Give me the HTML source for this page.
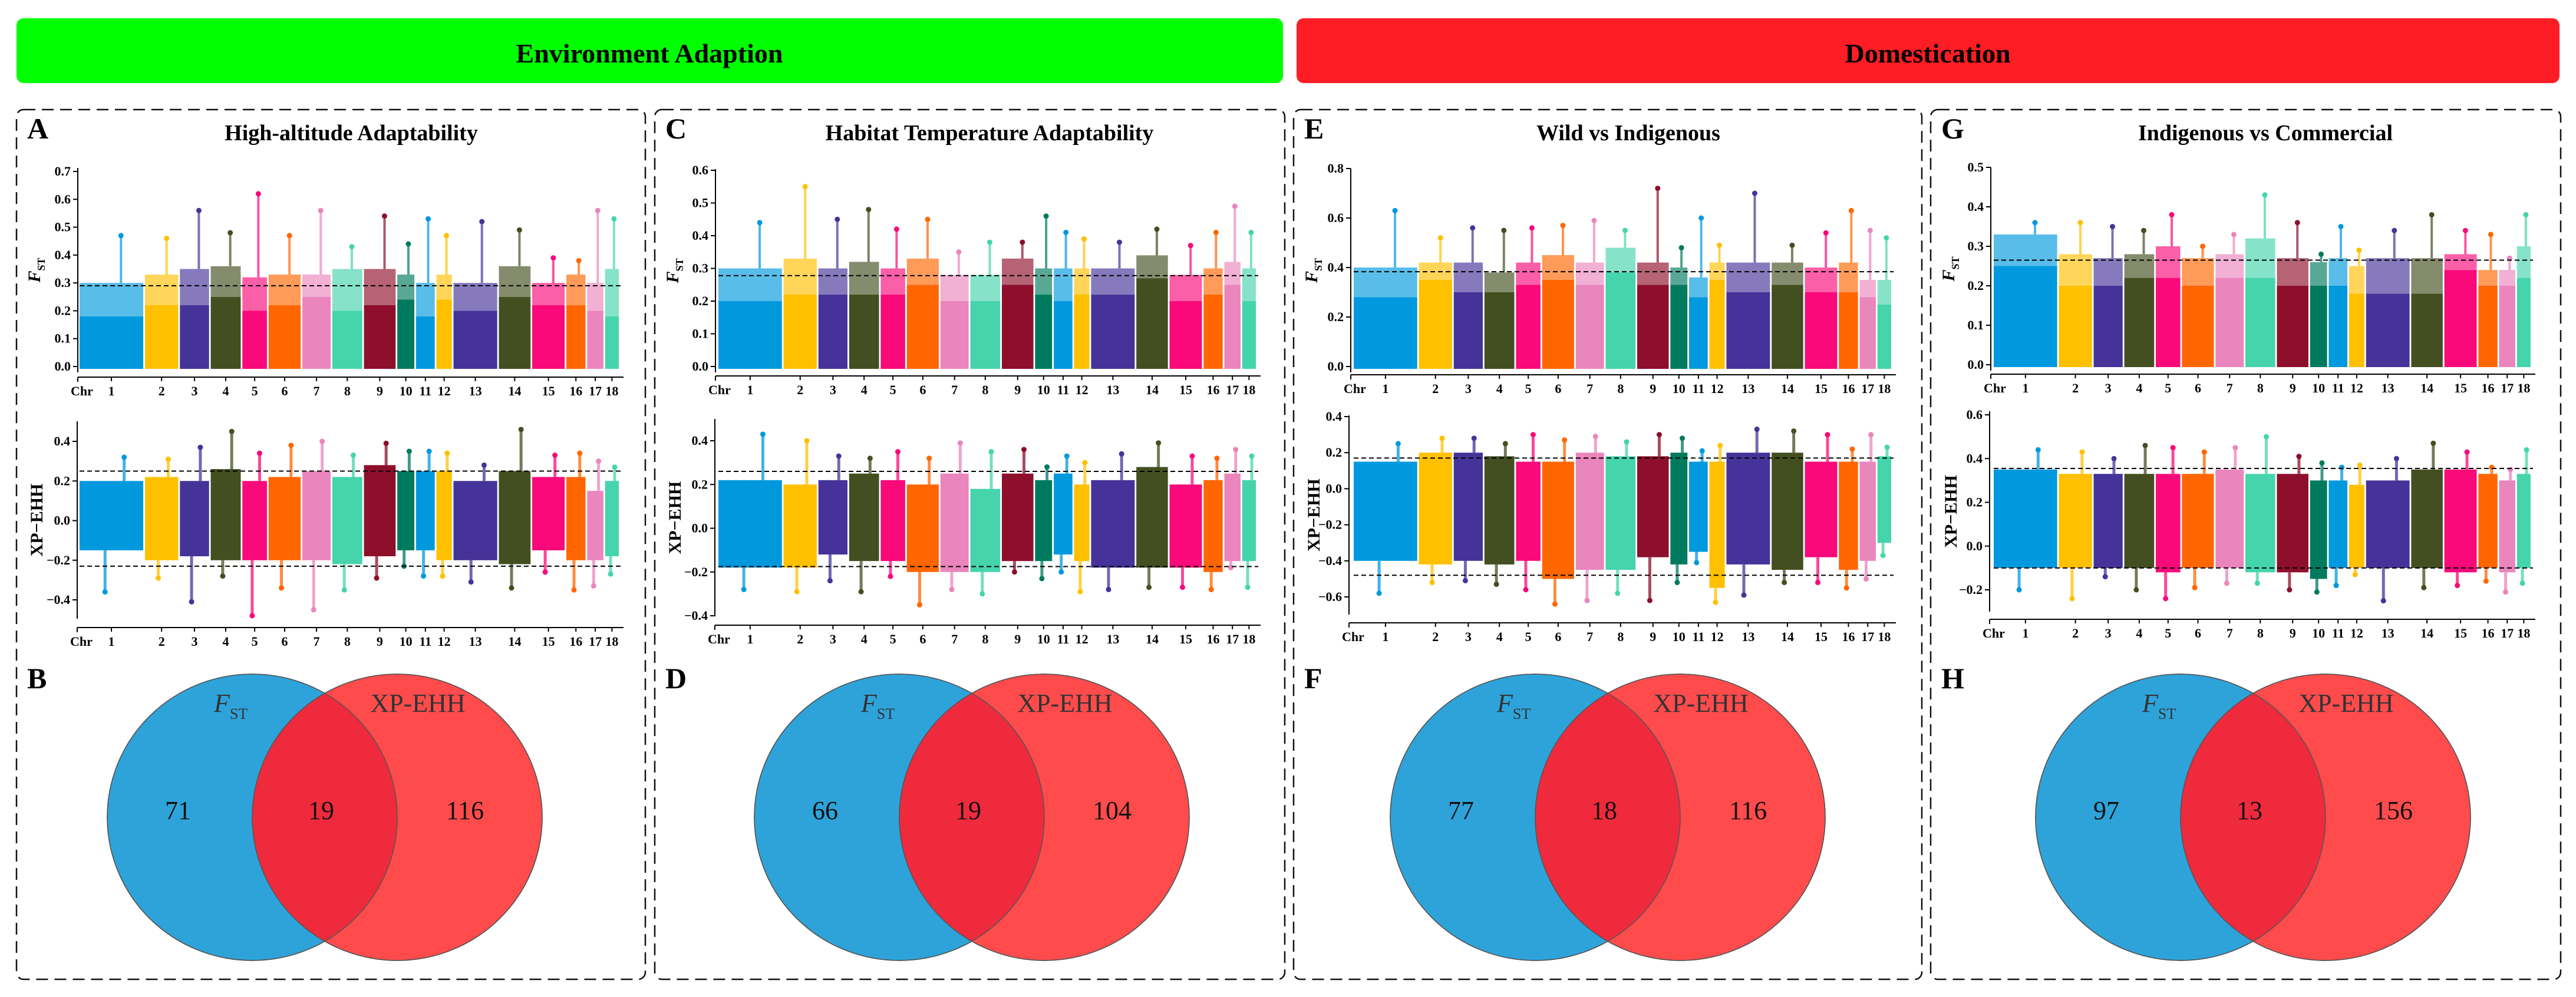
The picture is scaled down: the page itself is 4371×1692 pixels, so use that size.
<!DOCTYPE html>
<html><head><meta charset="utf-8">
<style>
html,body{margin:0;padding:0;background:#fff;}
svg{display:block;}
text,tspan{font-family:"Liberation Serif",serif;}
</style></head>
<body>
<svg id="fig" width="4371" height="1692" viewBox="0 0 4371 1692" xmlns="http://www.w3.org/2000/svg" font-family="Liberation Serif, serif">
<defs></defs>
<rect x="28" y="31" width="2149" height="110" rx="12" fill="#00ff00"/>
<text x="1102" y="106" text-anchor="middle" font-size="46" font-weight="bold">Environment Adaption</text>
<rect x="2200" y="31" width="2143" height="110" rx="12" fill="#ff1d25"/>
<text x="3271" y="106" text-anchor="middle" font-size="46" font-weight="bold">Domestication</text>
<g id="panels"></g>
</svg>
<script>
// ---- data ----
const chromosomes = ["1","2","3","4","5","6","7","8","9","10","11","12","13","14","15","16","17","18"];
const chromLengths = [153,80,70,72,59,77,68,72,76,41,45,37,105,76,78,46,39,33];
const chromColors = ["#0099dd","#ffc000","#453399","#434f20","#f9097a","#ff6600","#ea85bd","#45d4ac","#8d0f2b","#007a5e","#0099dd","#ffc000","#453399","#434f20","#f9097a","#ff6600","#ea85bd","#45d4ac"];
const panelTitles = ["High-altitude Adaptability","Habitat Temperature Adaptability","Wild vs Indigenous","Indigenous vs Commercial"];
const topLetters = ["A","C","E","G"];
const bottomLetters = ["B","D","F","H"];
const fstDenseA = [.18,.22,.22,.25,.2,.22,.25,.2,.22,.24,.18,.24,.2,.25,.22,.22,.2,.18];
const fstSparseA = [.3,.33,.35,.36,.32,.33,.33,.35,.35,.33,.3,.33,.3,.36,.3,.33,.3,.35];
const fstMaxA = [.47,.46,.56,.48,.62,.47,.56,.43,.54,.44,.53,.47,.52,.49,.39,.38,.56,.53];
const fstDenseC = [.2,.22,.22,.22,.22,.25,.2,.2,.25,.22,.2,.22,.22,.27,.2,.22,.25,.2];
const fstSparseC = [.3,.33,.3,.32,.3,.33,.28,.28,.33,.3,.3,.3,.3,.34,.28,.3,.32,.3];
const fstMaxC = [.44,.55,.45,.48,.42,.45,.35,.38,.38,.46,.41,.39,.38,.42,.37,.41,.49,.41];
const fstDenseE = [.28,.35,.3,.3,.33,.35,.33,.38,.33,.33,.28,.35,.3,.33,.3,.3,.28,.25];
const fstSparseE = [.4,.42,.42,.38,.42,.45,.42,.48,.42,.4,.36,.42,.42,.42,.4,.42,.35,.35];
const fstMaxE = [.63,.52,.56,.55,.56,.57,.59,.55,.72,.48,.6,.49,.7,.49,.54,.63,.55,.52];
const fstDenseG = [.25,.2,.2,.22,.22,.2,.22,.22,.2,.2,.2,.18,.18,.18,.24,.2,.2,.22];
const fstSparseG = [.33,.28,.27,.28,.3,.27,.28,.32,.27,.26,.27,.25,.27,.27,.28,.24,.24,.3];
const fstMaxG = [.36,.36,.35,.34,.38,.3,.33,.43,.36,.28,.35,.29,.34,.38,.34,.33,.27,.38];
const xpHiA = [.2,.22,.2,.26,.2,.22,.25,.22,.28,.25,.25,.25,.2,.25,.22,.22,.15,.2];
const xpLoA = [-.15,-.2,-.18,-.2,-.2,-.2,-.2,-.22,-.18,-.15,-.15,-.2,-.2,-.22,-.15,-.2,-.2,-.18];
const xpMaxA = [.32,.31,.37,.45,.34,.38,.40,.33,.39,.35,.35,.34,.28,.46,.33,.34,.3,.27];
const xpMinA = [-.36,-.29,-.41,-.28,-.48,-.34,-.45,-.35,-.29,-.23,-.28,-.28,-.31,-.34,-.26,-.35,-.33,-.27];
const xpHiC = [.22,.2,.22,.25,.22,.2,.25,.18,.25,.22,.25,.2,.22,.28,.2,.22,.25,.22];
const xpLoC = [-.18,-.18,-.12,-.15,-.15,-.2,-.2,-.2,-.15,-.15,-.12,-.15,-.18,-.18,-.18,-.2,-.15,-.15];
const xpMaxC = [.43,.4,.33,.32,.35,.32,.39,.35,.36,.28,.33,.3,.34,.39,.33,.32,.36,.33];
const xpMinC = [-.28,-.29,-.24,-.29,-.22,-.35,-.28,-.3,-.2,-.23,-.2,-.29,-.28,-.27,-.27,-.28,-.18,-.27];
const xpHiE = [.15,.2,.2,.18,.15,.15,.2,.18,.18,.2,.15,.15,.2,.2,.15,.15,.15,.18];
const xpLoE = [-.4,-.42,-.4,-.42,-.4,-.5,-.45,-.45,-.38,-.42,-.35,-.55,-.42,-.45,-.38,-.45,-.4,-.3];
const xpMaxE = [.25,.28,.28,.25,.3,.27,.29,.26,.3,.28,.21,.24,.33,.32,.3,.22,.3,.23];
const xpMinE = [-.58,-.52,-.51,-.53,-.56,-.64,-.62,-.58,-.62,-.52,-.41,-.63,-.59,-.52,-.52,-.55,-.5,-.37];
const xpHiG = [.35,.33,.33,.33,.33,.33,.35,.33,.33,.3,.3,.28,.3,.35,.35,.33,.3,.33];
const xpLoG = [-.1,-.1,-.1,-.1,-.12,-.1,-.1,-.12,-.12,-.15,-.1,-.1,-.1,-.1,-.12,-.1,-.12,-.1];
const xpMaxG = [.44,.43,.4,.46,.45,.43,.45,.5,.41,.38,.36,.37,.4,.47,.43,.36,.35,.44];
const xpMinG = [-.2,-.24,-.14,-.2,-.24,-.19,-.17,-.17,-.2,-.21,-.18,-.13,-.25,-.19,-.18,-.16,-.21,-.17];
const fstThresholds = [0.29,0.278,0.383,0.265];
const xpUpperThresholds = [0.25,0.26,0.17,0.355];
const xpLowerThresholds = [-0.23,-0.175,-0.48,-0.1];
const fstTickLabelsA = ["0.0","0.1","0.2","0.3","0.4","0.5","0.6","0.7"];
const fstTickLabelsC = ["0.0","0.1","0.2","0.3","0.4","0.5","0.6"];
const fstTickLabelsE = ["0.0","0.2","0.4","0.6","0.8"];
const fstTickLabelsG = ["0.0","0.1","0.2","0.3","0.4","0.5"];
const xpTickLabelsA = ["−0.4","−0.2","0.0","0.2","0.4"];
const xpTickLabelsC = ["−0.4","−0.2","0.0","0.2","0.4"];
const xpTickLabelsE = ["−0.6","−0.4","−0.2","0.0","0.2","0.4"];
const xpTickLabelsG = ["−0.2","0.0","0.2","0.4","0.6"];
const vennFstOnly = [71,66,77,97];
const vennShared = [19,19,18,13];
const vennXpOnly = [116,104,116,156];

// ---- layout (pixels) ----
const panelLeft = [28,1111,2195,3276];
const panelWidth = [1067,1069,1066,1069];
const L = [
 {ax:132, x0:135, x1:1050, f0y:622, fTopV:.7, fTopY:291, fAxTop:285, fXline:640,
  xAx:131, xTopV:.4, xTopY:749, xBotV:-.4, xBotY:1018, xAxTop:715, xAxBot:1050, xXline:1065, vennL:182},
 {ax:1214, x0:1219, x1:2131, f0y:622, fTopV:.6, fTopY:289, fAxTop:287, fXline:638,
  xAx:1213, xTopV:.4, xTopY:748, xBotV:-.4, xBotY:1045, xAxTop:711, xAxBot:1046, xXline:1061, vennL:1280},
 {ax:2292, x0:2297, x1:3209, f0y:622, fTopV:.8, fTopY:286, fAxTop:286, fXline:636,
  xAx:2289, xTopV:.4, xTopY:707, xBotV:-.6, xBotY:1013, xAxTop:705, xAxBot:1043, xXline:1057, vennL:2359},
 {ax:3378, x0:3383, x1:4294, f0y:619, fTopV:.5, fTopY:284, fAxTop:284, fXline:635,
  xAx:3376, xTopV:.6, xTopY:704, xBotV:-.2, xBotY:1001, xAxTop:698, xAxBot:1038, xXline:1051, vennL:3454}
];
const fstDense=[fstDenseA,fstDenseC,fstDenseE,fstDenseG], fstSparse=[fstSparseA,fstSparseC,fstSparseE,fstSparseG], fstMax=[fstMaxA,fstMaxC,fstMaxE,fstMaxG];
const xpHi=[xpHiA,xpHiC,xpHiE,xpHiG], xpLo=[xpLoA,xpLoC,xpLoE,xpLoG], xpMax=[xpMaxA,xpMaxC,xpMaxE,xpMaxG], xpMin=[xpMinA,xpMinC,xpMinE,xpMinG];
const fstTicks=[fstTickLabelsA,fstTickLabelsC,fstTickLabelsE,fstTickLabelsG];
const xpTicks=[xpTickLabelsA,xpTickLabelsC,xpTickLabelsE,xpTickLabelsG];

const NS="http://www.w3.org/2000/svg";
const root=document.getElementById('panels');
function mk(tag, attrs, parent){const e=document.createElementNS(NS,tag);for(const k in attrs)e.setAttribute(k,attrs[k]);(parent||root).appendChild(e);return e;}
function num(s){return parseFloat(s.replace('−','-'));}

const GAP=4;
const totalLen=chromLengths.reduce((a,b)=>a+b,0)+GAP*(chromLengths.length-1);

for(let p=0;p<4;p++){
  const g=L[p], left=panelLeft[p];
  const grp=mk('g',{});
  
  
  const box=mk('rect',{x:left,y:186,width:panelWidth[p],height:1476,rx:12,fill:'none',stroke:'#111','stroke-width':2.5,'stroke-dasharray':'20 11'},grp);
  
  
  const lt=mk('text',{x:left+18,y:235,'font-size':50,'font-weight':'bold'},grp);lt.textContent=topLetters[p];
  
  
  const tt=mk('text',{x:left+568,y:238,'font-size':38,'font-weight':'bold','text-anchor':'middle'},grp);tt.textContent=panelTitles[p];
  
  

  const xs=(g.x1-g.x0)/totalLen;
  const chromX=[];let acc=0;
  for(let i=0;i<chromLengths.length;i++){chromX.push([g.x0+acc*xs,g.x0+(acc+chromLengths[i])*xs]);acc+=chromLengths[i]+GAP;}

  const fy=v=>g.f0y-(v/g.fTopV)*(g.f0y-g.fTopY);
  const xyS=(g.xBotY-g.xTopY)/(g.xTopV-g.xBotV);
  const xy=v=>g.xTopY+(g.xTopV-v)*xyS;

  // ---- FST plot ----
  const fg=mk('g',{},grp);
  
  
  for(let i=0;i<chromLengths.length;i++){
    const [a,b]=chromX[i], c=chromColors[i];
    const r1=mk('rect',{x:a,y:fy(fstSparse[p][i]),width:b-a,height:fy(fstDense[p][i])-fy(fstSparse[p][i]),fill:c,opacity:0.65},fg);
    
    
    const r2=mk('rect',{x:a,y:fy(fstDense[p][i]),width:b-a,height:fy(0)+4-fy(fstDense[p][i]),fill:c},fg);
    
    
    const d=mk('circle',{cx:(a+b)/2+(b-a)*0.15,cy:fy(fstMax[p][i]),r:4.5,fill:c},fg);
    
    
    const s=mk('rect',{x:(a+b)/2+(b-a)*0.15-2,y:fy(fstMax[p][i]),width:4,height:fy(fstSparse[p][i])-fy(fstMax[p][i]),fill:c,opacity:0.7},fg);
    
    
  }
  const ft=mk('line',{x1:g.x0,x2:g.x1+4,y1:fy(fstThresholds[p]),y2:fy(fstThresholds[p]),stroke:'#000','stroke-width':2,'stroke-dasharray':'8 5'},fg);
  
  
  const fya=mk('line',{x1:g.ax,x2:g.ax,y1:g.fAxTop,y2:g.f0y+10,stroke:'#000','stroke-width':2},fg);
  
  
  fstTicks[p].forEach(t=>{const y=fy(num(t));
    mk('line',{x1:g.ax-8,x2:g.ax,y1:y,y2:y,stroke:'#000','stroke-width':2},fg);
    const tx=mk('text',{x:g.ax-12,y:y+7,'font-size':22,'font-weight':'bold','text-anchor':'end'},fg);tx.textContent=t;
    
    
  });
  const fyl=mk('text',{transform:`translate(${left+40},${(g.fAxTop+g.f0y)/2+5}) rotate(-90)`,'font-size':30,'font-weight':'bold','text-anchor':'middle'},fg);
  fyl.innerHTML='<tspan font-style="italic">F</tspan><tspan font-size="18" dy="8">ST</tspan>';
  
  
  drawXAxis(fg,g.ax,g.x1+8,g.fXline,chromX,'fst');

  // ---- XP-EHH plot ----
  const xg=mk('g',{},grp);
  
  
  for(let i=0;i<chromLengths.length;i++){
    const [a,b]=chromX[i], c=chromColors[i];
    const r=mk('rect',{x:a,y:xy(xpHi[p][i]),width:b-a,height:xy(xpLo[p][i])-xy(xpHi[p][i]),fill:c},xg);
    
    
    const cx1=a+(b-a)*0.7, cx2=a+(b-a)*0.4;
    const s1=mk('rect',{x:cx1-2.5,y:xy(xpMax[p][i]),width:5,height:xy(xpHi[p][i])-xy(xpMax[p][i]),fill:c,opacity:0.75},xg);
    
    
    const d1=mk('circle',{cx:cx1,cy:xy(xpMax[p][i]),r:4.5,fill:c},xg);
    
    
    const s2=mk('rect',{x:cx2-2.5,y:xy(xpLo[p][i]),width:5,height:xy(xpMin[p][i])-xy(xpLo[p][i]),fill:c,opacity:0.75},xg);
    
    
    const d2=mk('circle',{cx:cx2,cy:xy(xpMin[p][i]),r:4.5,fill:c},xg);
    
    
  }
  [xpUpperThresholds[p],xpLowerThresholds[p]].forEach(v=>{
    const t=mk('line',{x1:g.x0,x2:g.x1+4,y1:xy(v),y2:xy(v),stroke:'#000','stroke-width':2,'stroke-dasharray':'8 5'},xg);
    
    
  });
  const xya=mk('line',{x1:g.xAx,x2:g.xAx,y1:g.xAxTop,y2:g.xAxBot,stroke:'#000','stroke-width':2},xg);
  
  
  xpTicks[p].forEach(t=>{const y=xy(num(t));
    mk('line',{x1:g.xAx-8,x2:g.xAx,y1:y,y2:y,stroke:'#000','stroke-width':2},xg);
    const tx=mk('text',{x:g.xAx-12,y:y+7,'font-size':22,'font-weight':'bold','text-anchor':'end'},xg);tx.textContent=t;
    
    
  });
  const xyl=mk('text',{transform:`translate(${left+44},${(g.xAxTop+g.xAxBot)/2}) rotate(-90)`,'font-size':30,'font-weight':'bold','text-anchor':'middle'},xg);
  xyl.textContent='XP−EHH';
  
  
  drawXAxis(xg,g.xAx,g.x1+8,g.xXline,chromX,'xpehh');

  // ---- Venn ----
  const vg=mk('g',{},grp);
  
  
  const bl=mk('text',{x:left+18,y:1168,'font-size':50,'font-weight':'bold'},vg);bl.textContent=bottomLetters[p];
  
  
  const bcx=g.vennL+246, rcx=bcx+246, cy=1387, rx=246, ry=243;
  const cid='clip'+p;
  const cp=mk('clipPath',{id:cid},document.querySelector('defs'));
  mk('ellipse',{cx:bcx,cy:cy,rx:rx,ry:ry},cp);
  const e1=mk('ellipse',{cx:bcx,cy:cy,rx:rx,ry:ry,fill:'#2ea3da',stroke:'#555','stroke-width':1.5},vg);
  
  
  const e2=mk('ellipse',{cx:rcx,cy:cy,rx:rx,ry:ry,fill:'#ff4b4b',stroke:'#555','stroke-width':1.5},vg);
  
  
  const e3=mk('ellipse',{cx:rcx,cy:cy,rx:rx,ry:ry,fill:'#ef2a3c','clip-path':`url(#${cid})`},vg);
  
  
  mk('ellipse',{cx:bcx,cy:cy,rx:rx,ry:ry,fill:'none',stroke:'#555','stroke-width':1.5},vg);
  mk('ellipse',{cx:rcx,cy:cy,rx:rx,ry:ry,fill:'none',stroke:'#555','stroke-width':1.5},vg);
  const fl=mk('text',{x:bcx-65,y:1208,'font-size':44,fill:'#333'},vg);
  fl.innerHTML='<tspan font-style="italic">F</tspan><tspan font-size="26" dy="12">ST</tspan>';
  
  
  const xl=mk('text',{x:bcx+281,y:1208,'font-size':44,fill:'#333','text-anchor':'middle'},vg);xl.textContent='XP-EHH';
  
  
  [[bcx-126,vennFstOnly[p],'venn-fst-only-count'],[bcx+117,vennShared[p],'venn-shared-count'],[bcx+361,vennXpOnly[p],'venn-xpehh-only-count']].forEach(([x,v,n])=>{
    const t=mk('text',{x:x,y:1390,'font-size':44,'text-anchor':'middle',fill:'#111'},vg);t.textContent=v;
    
    
  });
}

function drawXAxis(parent,xa,xb,y,chromX,prefix){
  const ln=mk('line',{x1:xa,x2:xb,y1:y,y2:y,stroke:'#000','stroke-width':2},parent);
  
  
  mk('line',{x1:xa,x2:xa,y1:y,y2:y+8,stroke:'#000','stroke-width':2},parent);
  const c=mk('text',{x:xa-12,y:y+31,'font-size':22,'font-weight':'bold'},parent);c.textContent='Chr';
  
  
  chromX.forEach(([a,b],i)=>{const m=(a+b)/2;
    mk('line',{x1:m,x2:m,y1:y,y2:y+7,stroke:'#000','stroke-width':2},parent);
    const t=mk('text',{x:m,y:y+31,'font-size':22,'font-weight':'bold','text-anchor':'middle'},parent);t.textContent=chromosomes[i];
    
    
  });
}
</script>
</body></html>
